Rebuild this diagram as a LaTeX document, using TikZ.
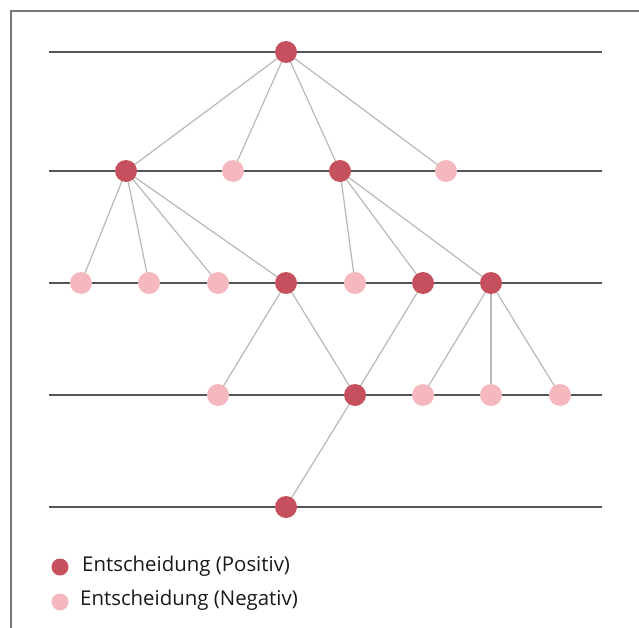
\documentclass[tikz,border=0pt]{standalone}
\usepackage{fontspec}
\setmainfont{Open Sans}
\usetikzlibrary{backgrounds}
\definecolor{pos}{HTML}{C7505E}
\definecolor{neg}{HTML}{F5B8BF}
\definecolor{edgegray}{HTML}{B8B8B8}
\definecolor{levelgray}{HTML}{555555}
\definecolor{framegray}{HTML}{777777}
\tikzset{
  posnode/.style={circle, fill=pos, draw=none, minimum size=22pt, inner sep=0pt},
  negnode/.style={circle, fill=neg, draw=none, minimum size=22pt, inner sep=0pt},
  tie/.style={draw=edgegray, line width=1.2pt},
  level/.style={draw=levelgray, line width=1.2pt},
  legenddot/.style={circle, draw=none, minimum size=17pt, inner sep=0pt},
  legendtext/.style={anchor=west, inner sep=0pt, text=black!90, font=\fontsize{20.4pt}{24pt}\selectfont},
}
\begin{document}
\begin{tikzpicture}[x=1pt, y=-1pt]
\useasboundingbox (0,0) rectangle (639,628);
% frame: top and left edges only
\draw[framegray, line width=1.2pt] (11,628) -- (11,11) -- (639,11);

% decision nodes by level
\node[posnode] (a)  at (286,52) {};
\node[posnode] (b1) at (126,171) {};
\node[negnode] (b2) at (233,171) {};
\node[posnode] (b3) at (340,171) {};
\node[negnode] (b4) at (446,171) {};
\node[negnode] (c1) at (81,283) {};
\node[negnode] (c2) at (149,283) {};
\node[negnode] (c3) at (218,283) {};
\node[posnode] (c4) at (286,283) {};
\node[negnode] (c5) at (355,283) {};
\node[posnode] (c6) at (423,283) {};
\node[posnode] (c7) at (491,283) {};
\node[negnode] (d1) at (218,395) {};
\node[posnode] (d2) at (355,395) {};
\node[negnode] (d3) at (423,395) {};
\node[negnode] (d4) at (491,395) {};
\node[negnode] (d5) at (560,395) {};
\node[posnode] (e1) at (286,507) {};

\begin{scope}[on background layer]
  % level lines
  \foreach \yy in {52,171,283,395,507}
    \draw[level] (49,\yy) -- (602,\yy);
  % connections
  \foreach \s/\t in {a/b1, a/b2, a/b3, a/b4,
                     b1/c1, b1/c2, b1/c3, b1/c4,
                     b3/c5, b3/c6, b3/c7,
                     c4/d1, c4/d2, c6/d2,
                     c7/d3, c7/d4, c7/d5,
                     d2/e1}
    \draw[tie] (\s.center) -- (\t.center);
\end{scope}

% legend
\node[legenddot, fill=pos] (lp) at (60,567) {};
\node[legenddot, fill=neg] (ln) at (60,602) {};
\node[legendtext] (lpt) at (82,566) {Entscheidung (Positiv)};
\node[legendtext] (lnt) at (80,600) {Entscheidung (Negativ)};
\end{tikzpicture}
\end{document}
